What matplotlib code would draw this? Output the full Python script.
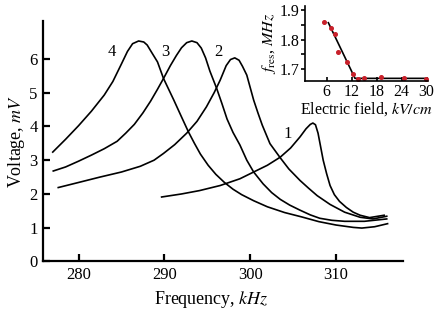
import numpy as np
import matplotlib
matplotlib.use("Agg")
import matplotlib.pyplot as plt

plt.rcParams['font.family'] = ['Liberation Serif', 'DejaVu Serif']
plt.rcParams['mathtext.fontset'] = 'stix'

# curves: frequency (kHz), voltage (mV)
f4 = [277.0, 278.5, 280.0, 281.5, 283.0, 284.0, 285.0, 285.7, 286.3, 287.0,
      287.6, 288.0, 288.5, 289.2, 289.9, 290.5, 291.1, 292.0, 292.8, 293.5,
      294.2, 295.1, 296.0, 297.0, 298.0, 299.0, 300.4, 302.0, 304.0, 306.0,
      308.0, 310.0, 312.0, 313.0, 314.5, 316.0]
v4 = [3.24, 3.62, 4.02, 4.45, 4.93, 5.33, 5.85, 6.22, 6.45, 6.53,
      6.50, 6.41, 6.20, 5.91, 5.42, 5.10, 4.78, 4.28, 3.84, 3.50,
      3.18, 2.85, 2.58, 2.34, 2.14, 1.98, 1.80, 1.62, 1.45, 1.32,
      1.18, 1.08, 1.01, 0.99, 1.03, 1.12]

f3 = [277.06, 278.5, 280.0, 281.5, 283.0, 284.5, 285.5, 286.5, 287.5, 288.4,
      289.2, 289.9, 290.7, 291.4, 292.0, 292.6, 293.2, 293.8, 294.3, 294.8,
      295.3, 296.1, 296.7, 297.3, 298.0, 298.8, 299.6, 300.4, 301.5, 302.5,
      303.5, 304.6, 305.8, 307.0, 308.1, 309.5, 311.0, 313.3, 315.9]
v3 = [2.68, 2.80, 2.97, 3.15, 3.34, 3.56, 3.80, 4.06, 4.40, 4.75,
      5.10, 5.42, 5.80, 6.10, 6.33, 6.48, 6.53, 6.48, 6.32, 6.03,
      5.64, 5.12, 4.68, 4.22, 3.82, 3.45, 3.00, 2.65, 2.30, 2.04,
      1.84, 1.67, 1.52, 1.38, 1.28, 1.22, 1.19, 1.19, 1.26]

f2 = [277.64, 280.0, 282.5, 285.0, 287.2, 288.8, 289.9, 291.2, 292.6, 293.8,
      294.9, 295.8, 296.5, 297.2, 297.7, 298.2, 298.7, 299.1, 299.6, 300.0,
      300.4, 300.9, 301.4, 302.3, 303.5, 304.5, 305.8, 306.8, 307.8, 309.3,
      311.0, 312.8, 314.3, 315.9]
v2 = [2.19, 2.34, 2.50, 2.65, 2.82, 3.00, 3.20, 3.46, 3.80, 4.15,
      4.58, 5.00, 5.37, 5.80, 5.98, 6.03, 5.96, 5.78, 5.52, 5.15,
      4.78, 4.40, 4.04, 3.49, 3.07, 2.74, 2.40, 2.17, 1.95, 1.69,
      1.46, 1.31, 1.26, 1.34]

f1 = [289.68, 292.0, 294.1, 296.5, 298.8, 300.4, 302.0, 303.5, 304.7, 305.8,
      306.5, 307.0, 307.3, 307.6, 307.9, 308.2, 308.5, 308.9, 309.3, 309.8,
      310.4, 311.2, 312.0, 312.8, 313.9, 315.6]
v1 = [1.91, 2.00, 2.10, 2.25, 2.45, 2.65, 2.85, 3.09, 3.36, 3.69,
      3.93, 4.06, 4.10, 4.05, 3.80, 3.40, 3.00, 2.60, 2.25, 1.98,
      1.78, 1.60, 1.46, 1.37, 1.30, 1.37]

curve_labels = ["4", "3", "2", "1"]
label_f = [283.86, 290.15, 296.27, 304.42]
label_v = [6.21, 6.21, 6.21, 3.79]

# inset: resonance frequency vs electric field
field = [5.42, 7.03, 8.0, 8.78, 10.8, 12.38, 13.58, 15.0, 19.0, 24.5, 29.8]
f_res = [1.858, 1.838, 1.818, 1.759, 1.725, 1.683, 1.667, 1.670, 1.672, 1.670, 1.667]
fit_field = [6.4, 12.8, 30.0]
fit_fres = [1.857, 1.668, 1.668]

fig = plt.figure(figsize=(4.37, 3.14), dpi=100)
ax = fig.add_axes([0.0991, 0.1672, 0.8224, 0.7668])

for f, v in [(f4, v4), (f3, v3), (f2, v2), (f1, v1)]:
    ax.plot(f, v, color='black', linewidth=1.2, solid_joinstyle='round')

for lab, x, y in zip(curve_labels, label_f, label_v):
    ax.text(x, y, lab, fontsize=12, ha='center', va='center')

ax.set_xlim(275.9, 317.76)
ax.set_ylim(0, 7.13)
ax.set_xticks([280, 290, 300, 310])
ax.set_yticks([0, 1, 2, 3, 4, 5, 6])
ax.spines['top'].set_visible(False)
ax.spines['right'].set_visible(False)
ax.spines['left'].set_linewidth(1.6)
ax.spines['bottom'].set_linewidth(1.6)
ax.tick_params(direction='in', length=5, width=1.6, labelsize=12, pad=4)
ax.set_xlabel(r"Frequency, $\mathit{kHz}$", fontsize=13, labelpad=2)
ax.xaxis.set_label_coords(0.469, -0.115)
ax.set_ylabel(r"Voltage, $\mathit{mV}$", fontsize=13, labelpad=2)

ins = fig.add_axes([0.698, 0.742, 0.282, 0.239])
ins.plot(fit_field, fit_fres, color='black', linewidth=1.2)
ins.plot(field, f_res, 'o', color='#c8202a', markersize=2.6, linestyle='none')
ins.set_xlim(0.8, 30.38)
ins.set_ylim(1.659, 1.914)
ins.set_xticks([6, 12, 18, 24, 30])
ins.set_yticks([1.7, 1.8, 1.9])
ins.set_yticks([1.75, 1.85], minor=True)
ins.spines['top'].set_visible(False)
ins.spines['right'].set_visible(False)
ins.spines['left'].set_linewidth(1.2)
ins.spines['bottom'].set_linewidth(1.2)
ins.tick_params(axis='x', direction='in', length=3, width=1.2, labelsize=11.5, pad=2)
ins.tick_params(axis='y', direction='out', length=3, width=1.2, labelsize=11.5, pad=1)
ins.tick_params(axis='y', which='minor', direction='out', length=3, width=1.2)
ins.set_xlabel(r"Electric field, $\mathit{kV/cm}$", fontsize=11.5, labelpad=0)
ins.set_ylabel(r"$f_{\rm res}$, $\mathit{MHz}$", fontsize=11.5, labelpad=1)
ins.patch.set_alpha(0)

fig.savefig("out.png", dpi=100)
